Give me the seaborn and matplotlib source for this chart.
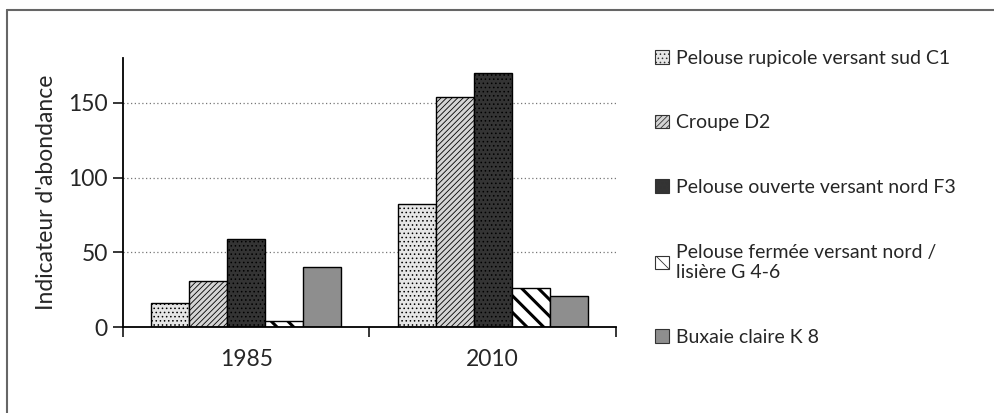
import pandas as pd
import matplotlib.pyplot as plt
import seaborn as sns
from matplotlib.lines import Line2D

# Données
annees = ["1985", "2010"]
milieux = [
    "Pelouse rupicole versant sud C1",
    "Croupe D2",
    "Pelouse ouverte versant nord F3",
    "Pelouse fermée versant nord /\nlisière G 4-6",
    "Buxaie claire K 8",
]
val_1985 = [16, 31, 59, 4, 40]
val_2010 = [82, 154, 170, 26, 21]

couleurs = ["#e6e6e6", "#d4d4d4", "#343434", "#ffffff", "#8e8e8e"]
hachures = ["....", "//////", "....", "\\\\", None]
epaisseur_hachure = [0.6, 0.6, 0.6, 2.2, 0.6]

data = pd.DataFrame({
    "Annee": annees * len(milieux),
    "Milieu": [m for m in milieux for _ in annees],
    "Valeur": [v for pair in zip(val_1985, val_2010) for v in pair],
})

sns.set_style("white")
plt.rcParams["font.family"] = ["Lato", "DejaVu Sans"]
plt.rcParams["hatch.linewidth"] = 0.6

fig = plt.figure(figsize=(9.95, 4.13), dpi=100)
ax = fig.add_axes([0.1236, 0.2082, 0.4955, 0.6514])

sns.barplot(data=data, x="Annee", y="Valeur", hue="Milieu", hue_order=milieux,
            palette=couleurs, width=0.77, edgecolor="black", linewidth=1.0,
            saturation=1, ax=ax, legend=False)

for i, cont in enumerate(ax.containers):
    for bar in cont:
        bar.set_hatch(hachures[i])
        try:
            bar.set_hatch_linewidth(epaisseur_hachure[i])
        except AttributeError:
            pass

ax.set_ylim(0, 180)
ax.set_xlim(-0.5, 1.5)
ax.set_yticks([0, 50, 100, 150])
ax.set_xticks([0, 1])
ax.set_xticks([-0.5, 0.5, 1.5], minor=True)
ax.tick_params(axis="x", which="major", length=0, pad=16, labelsize=16.5)
ax.tick_params(axis="x", which="minor", length=7, width=1.3, direction="out", bottom=True)
ax.tick_params(axis="y", length=7, width=1.3, direction="out", left=True, labelsize=16.5, pad=4)
for y in [50, 100, 150]:
    ax.axhline(y, color="#777777", linestyle=(0, (1, 2)), linewidth=0.9, zorder=0)
ax.set_xlabel("")
ax.set_ylabel("Indicateur d'abondance", fontsize=16.5, labelpad=8)
sns.despine(ax=ax)
for s in ["left", "bottom"]:
    ax.spines[s].set_linewidth(1.3)
    ax.spines[s].set_color("black")

# légende
handles = []
for c, h, e in zip(couleurs, hachures, epaisseur_hachure):
    r = plt.Rectangle((0, 0), 1, 1, facecolor=c, edgecolor="#333333", hatch=h, linewidth=0.8)
    try:
        r.set_hatch_linewidth(min(e, 1.2))
    except AttributeError:
        pass
    handles.append(r)
leg = fig.legend(handles, milieux, loc="upper left", bbox_to_anchor=(0.641, 0.922),
                 frameon=False, fontsize=14, handlelength=0.7, handleheight=0.7,
                 handletextpad=0.35, labelspacing=2.45)
for t in leg.get_texts():
    t.set_linespacing(1.25)

# cadre (haut et gauche)
fig.add_artist(Line2D([0.007, 1.0], [0.976, 0.976], color="#666666", linewidth=1.5))
fig.add_artist(Line2D([0.007, 0.007], [0.0, 0.976], color="#666666", linewidth=1.5))

plt.savefig("out.png", dpi=100)
